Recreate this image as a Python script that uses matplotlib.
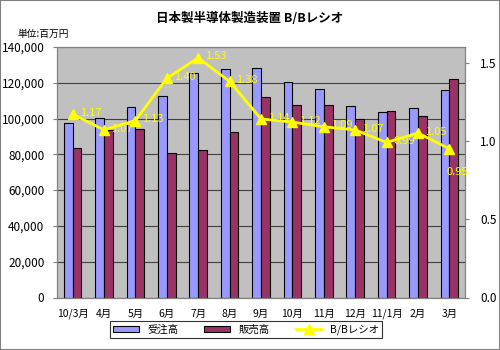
import numpy as np
import matplotlib.pyplot as plt
from matplotlib.patches import Rectangle
from matplotlib.lines import Line2D

plt.rcParams['font.family'] = ['Noto Sans CJK JP', 'DejaVu Sans']

# data
months = ["10/3月", "4月", "5月", "6月", "7月", "8月", "9月",
          "10月", "11月", "12月", "11/1月", "2月", "3月"]
orders = [97300, 100500, 106500, 112400, 125500, 127800, 128300,
          120500, 116600, 106800, 103500, 106100, 115800]
sales = [83500, 93800, 94200, 80700, 82400, 92500, 112100,
         107600, 107400, 99600, 104200, 101200, 122200]
bb_ratio = [1.17, 1.07, 1.13, 1.40, 1.53, 1.38, 1.14,
            1.12, 1.09, 1.07, 0.99, 1.05, 0.95]

x = np.arange(len(months))
w = 0.28

fig = plt.figure(figsize=(5, 3.5), dpi=100)
fig.patches.append(Rectangle((0, 0), 1, 1, transform=fig.transFigure,
                             fill=False, edgecolor="#808080", linewidth=1.5))

ax = fig.add_axes([0.114, 0.15, 0.816, 0.716])
ax.set_facecolor("#C0C0C0")
for s in ax.spines.values():
    s.set_color("#808080")

ax.bar(x - w / 2, orders, w, color="#9999FF", edgecolor="black", linewidth=0.8, zorder=2)
ax.bar(x + w / 2, sales, w, color="#993366", edgecolor="black", linewidth=0.8, zorder=2)

ax.set_ylim(0, 140000)
ax.set_xlim(-0.5, len(months) - 0.5)
ax.set_yticks(range(0, 140001, 20000))
ax.set_yticklabels([f"{v:,}" for v in range(0, 140001, 20000)], fontsize=8.5)
ax.yaxis.grid(True, color="#404040", linewidth=0.8, zorder=1)
ax.set_axisbelow(True)
ax.set_xticks(x)
ax.set_xticklabels(months, fontsize=7.5)
ax.tick_params(axis="x", length=0, pad=8)
ax.tick_params(axis="y", length=3, color="#808080", pad=6)

ax2 = ax.twinx()
ax2.set_ylim(0, 1.6)
ax2.set_yticks([0, 0.5, 1.0, 1.5])
ax2.set_yticklabels(["0.0", "0.5", "1.0", "1.5"], fontsize=8.5)
ax2.tick_params(axis="y", length=3, color="#808080", pad=8)
for s in ax2.spines.values():
    s.set_color("#808080")
ax2.plot(x, bb_ratio, color="#FFFF00", linewidth=2, marker="^", markersize=7, zorder=3)
for i, v in enumerate(bb_ratio):
    if i == len(bb_ratio) - 1:
        ax2.annotate(f"{v:.2f}", (x[i], v), xytext=(-2, -17), textcoords="offset points",
                     fontsize=8, color="#FFFF00", va="center", ha="left")
    else:
        ax2.annotate(f"{v:.2f}", (x[i], v), xytext=(5, 1), textcoords="offset points",
                     fontsize=8, color="#FFFF00", va="center", ha="left")

fig.text(0.5, 0.948, "日本製半導体製造装置 B/Bレシオ", ha="center", va="center",
         fontsize=9, fontweight="bold")
fig.text(0.034, 0.902, "単位:百万円", ha="left", va="center", fontsize=7)

handles = [Rectangle((0, 0), 1, 1, facecolor="#9999FF", edgecolor="black", linewidth=0.8),
           Rectangle((0, 0), 1, 1, facecolor="#993366", edgecolor="black", linewidth=0.8),
           Line2D([], [], color="#FFFF00", linewidth=2, marker="^", markersize=7)]
leg = fig.legend(handles, ["受注高", "販売高", "B/Bレシオ"], loc="center",
                 bbox_to_anchor=(0.492, 0.058), ncol=3, fontsize=7.5, frameon=True,
                 fancybox=False, edgecolor="black", handlelength=2.5, handleheight=0.6,
                 columnspacing=2.5, borderpad=0.3)
leg.get_frame().set_linewidth(0.8)

fig.savefig("out.png", dpi=100)
